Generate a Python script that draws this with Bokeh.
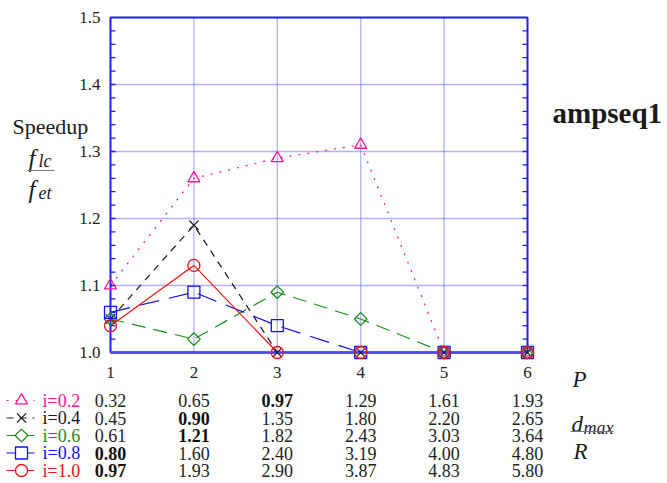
import math
from bokeh.plotting import figure
from bokeh.models import Range1d
from bokeh.core.properties import value
from bokeh.embed import file_html
from bokeh.resources import INLINE

# ---------------- data ----------------
P_values = [1, 2, 3, 4, 5, 6]
speedup_i02 = [1.10, 1.26, 1.29, 1.31, 1.00, 1.00]
speedup_i04 = [1.05, 1.19, 1.00, 1.00, 1.00, 1.00]
speedup_i06 = [1.05, 1.02, 1.09, 1.05, 1.00, 1.00]
speedup_i08 = [1.06, 1.09, 1.04, 1.00, 1.00, 1.00]
speedup_i10 = [1.04, 1.13, 1.00, 1.00, 1.00, 1.00]
series_labels = ["i=0.2", "i=0.4", "i=0.6", "i=0.8", "i=1.0"]

dmax_i02 = ["0.32", "0.65", "0.97", "1.29", "1.61", "1.93"]
dmax_i04 = ["0.45", "0.90", "1.35", "1.80", "2.20", "2.65"]
dmax_i06 = ["0.61", "1.21", "1.82", "2.43", "3.03", "3.64"]
dmax_i08 = ["0.80", "1.60", "2.40", "3.19", "4.00", "4.80"]
dmax_i10 = ["0.97", "1.93", "2.90", "3.87", "4.83", "5.80"]
bold_col = [3, 2, 2, 1, 1]  # P column printed in bold for each row

y_ticks = [1.0, 1.1, 1.2, 1.3, 1.4, 1.5]
y_tick_labels = ["1.0", "1.1", "1.2", "1.3", "1.4", "1.5"]
x_ticks = [1, 2, 3, 4, 5, 6]
x_tick_labels = ["1", "2", "3", "4", "5", "6"]
y_minor = [1.0 + 0.02 * k for k in range(1, 25)]

speedups = [speedup_i02, speedup_i04, speedup_i06, speedup_i08, speedup_i10]
dmax_rows = [dmax_i02, dmax_i04, dmax_i06, dmax_i08, dmax_i10]

# ---------------- layout helpers (page pixel -> data) ----------------
def X(px):
    return 1 + (px - 110) / 83.4

def Y(py):
    return 1.0 + (352 - py) / 670.0

W, H = 667, 483
p = figure(width=W, height=H, output_backend="svg", toolbar_location=None,
           x_range=Range1d(X(0), X(W)), y_range=Range1d(Y(H), Y(0)),
           x_axis_type=None, y_axis_type=None, min_border=0)
p.outline_line_color = None
p.background_fill_color = "white"
p.border_fill_color = "white"

FONT = value("Liberation Serif")
BORDER = "#1f1fe6"
GRID = "#6262ff"

# grid lines (dotted)
p.segment(x0=x_ticks[1:-1], y0=[y_ticks[0]] * 4, x1=x_ticks[1:-1], y1=[y_ticks[-1]] * 4,
          line_color=GRID, line_width=1.3, line_dash="1 1")
p.segment(x0=[x_ticks[0]] * 4, y0=y_ticks[1:-1], x1=[x_ticks[-1]] * 4, y1=y_ticks[1:-1],
          line_color=GRID, line_width=1.3, line_dash="1 1")

# series lines
styles = [
    dict(color="#ff1493", dash="2 7", marker="triangle", size=12, angle=0.0),
    dict(color="#1a1a1a", dash="7 6", marker="x", size=13, angle=0.0),
    dict(color="#1e8c1e", dash="14 8", marker="square", size=9, angle=math.pi / 4),
    dict(color="#1010f0", dash="20 10", marker="square", size=12, angle=0.0),
    dict(color="#f01010", dash="solid", marker="circle", size=12, angle=0.0),
]
for ys, st in zip(speedups, styles):
    p.line(P_values, ys, line_color=st["color"], line_width=1.2, line_dash=st["dash"])

# minor ticks, inward on left and right
tick_len = 5 / 83.4
p.segment(x0=[x_ticks[0]] * len(y_minor), y0=y_minor,
          x1=[x_ticks[0] + tick_len] * len(y_minor), y1=y_minor,
          line_color=BORDER, line_width=1.3)
p.segment(x0=[x_ticks[-1]] * len(y_minor), y0=y_minor,
          x1=[x_ticks[-1] - tick_len] * len(y_minor), y1=y_minor,
          line_color=BORDER, line_width=1.3)

# frame box
bx = [x_ticks[0], x_ticks[-1], x_ticks[-1], x_ticks[0], x_ticks[0]]
by = [y_ticks[0], y_ticks[0], y_ticks[-1], y_ticks[-1], y_ticks[0]]
p.line(bx, by, line_color=BORDER, line_width=2)
p.line([x_ticks[0], x_ticks[-1]], [y_ticks[0], y_ticks[0]], line_color="#4848e8", line_width=2.6)

# markers on top
for ys, st in zip(speedups, styles):
    p.scatter(P_values, ys, marker=st["marker"], size=st["size"], angle=st["angle"],
              line_color=st["color"], fill_color=None, line_width=1.3)

# tick labels
p.text(x=[X(100)] * len(y_ticks), y=y_ticks, text=y_tick_labels,
       text_font=FONT, text_font_size="17px", text_align="right",
       text_baseline="middle", text_color="#222222")
p.text(x=x_ticks, y=[Y(372)] * len(x_ticks), text=x_tick_labels,
       text_font=FONT, text_font_size="17px", text_align="center",
       text_baseline="middle", text_color="#222222")

# legend + table rows
row_py = [400, 417.5, 435, 452.5, 470]
for k, (lab, st, row) in enumerate(zip(series_labels, styles, dmax_rows)):
    yy = Y(row_py[k])
    p.line([X(6), X(34)], [yy, yy], line_color=st["color"], line_width=1.2,
           line_dash=st["dash"] if k < 2 else "solid")
    p.scatter([X(21)], [yy], marker=st["marker"], size=st["size"], angle=st["angle"],
              line_color=st["color"], fill_color="white", line_width=1.3)
    p.text(x=[X(42)], y=[yy], text=[lab], text_font=FONT, text_font_size="18px",
           text_baseline="middle", text_color=st["color"])
    normal_x = [c for c in P_values if c != bold_col[k]]
    normal_t = [row[c - 1] for c in normal_x]
    p.text(x=normal_x, y=[yy] * len(normal_x), text=normal_t, text_font=FONT,
           text_font_size="18px", text_align="center", text_baseline="middle",
           text_color="#222222")
    p.text(x=[bold_col[k]], y=[yy], text=[row[bold_col[k] - 1]], text_font=FONT,
           text_font_size="18px", text_font_style="bold", text_align="center",
           text_baseline="middle", text_color="#111111")

# titles / side labels
p.text(x=[X(552)], y=[Y(112)], text=["ampseq1"], text_font=FONT, text_font_size="29px",
       text_font_style="bold", text_baseline="alphabetic", text_color="#1a1a1a")
p.text(x=[X(12)], y=[Y(126)], text=["Speedup"], text_font=FONT, text_font_size="22px",
       text_baseline="alphabetic", text_color="#1a1a1a")

ITAL = dict(text_font=FONT, text_font_style="italic", text_baseline="alphabetic",
            text_color="#1a1a1a")
# f_lc / f_et
p.text(x=[X(28)], y=[Y(158)], text=["f"], text_font_size="25px", **ITAL)
p.text(x=[X(38)], y=[Y(160)], text=["lc"], text_font_size="18px", **ITAL)
p.line([X(27), X(54)], [Y(170), Y(170)], line_color="#777777", line_width=1)
p.text(x=[X(28)], y=[Y(189)], text=["f"], text_font_size="25px", **ITAL)
p.text(x=[X(38)], y=[Y(192)], text=["et"], text_font_size="18px", **ITAL)

# P
p.text(x=[X(572)], y=[Y(379)], text=["P"], text_font_size="23px", **ITAL)
# d_max / R
p.text(x=[X(571)], y=[Y(424)], text=["d"], text_font_size="23px", **ITAL)
p.text(x=[X(583)], y=[Y(427)], text=["max"], text_font_size="18px", **ITAL)
p.line([X(570), X(613)], [Y(431), Y(431)], line_color="#777777", line_width=1)
p.text(x=[X(573)], y=[Y(451)], text=["R"], text_font_size="23px", **ITAL)

open("out.html", "w").write(file_html(p, INLINE))
